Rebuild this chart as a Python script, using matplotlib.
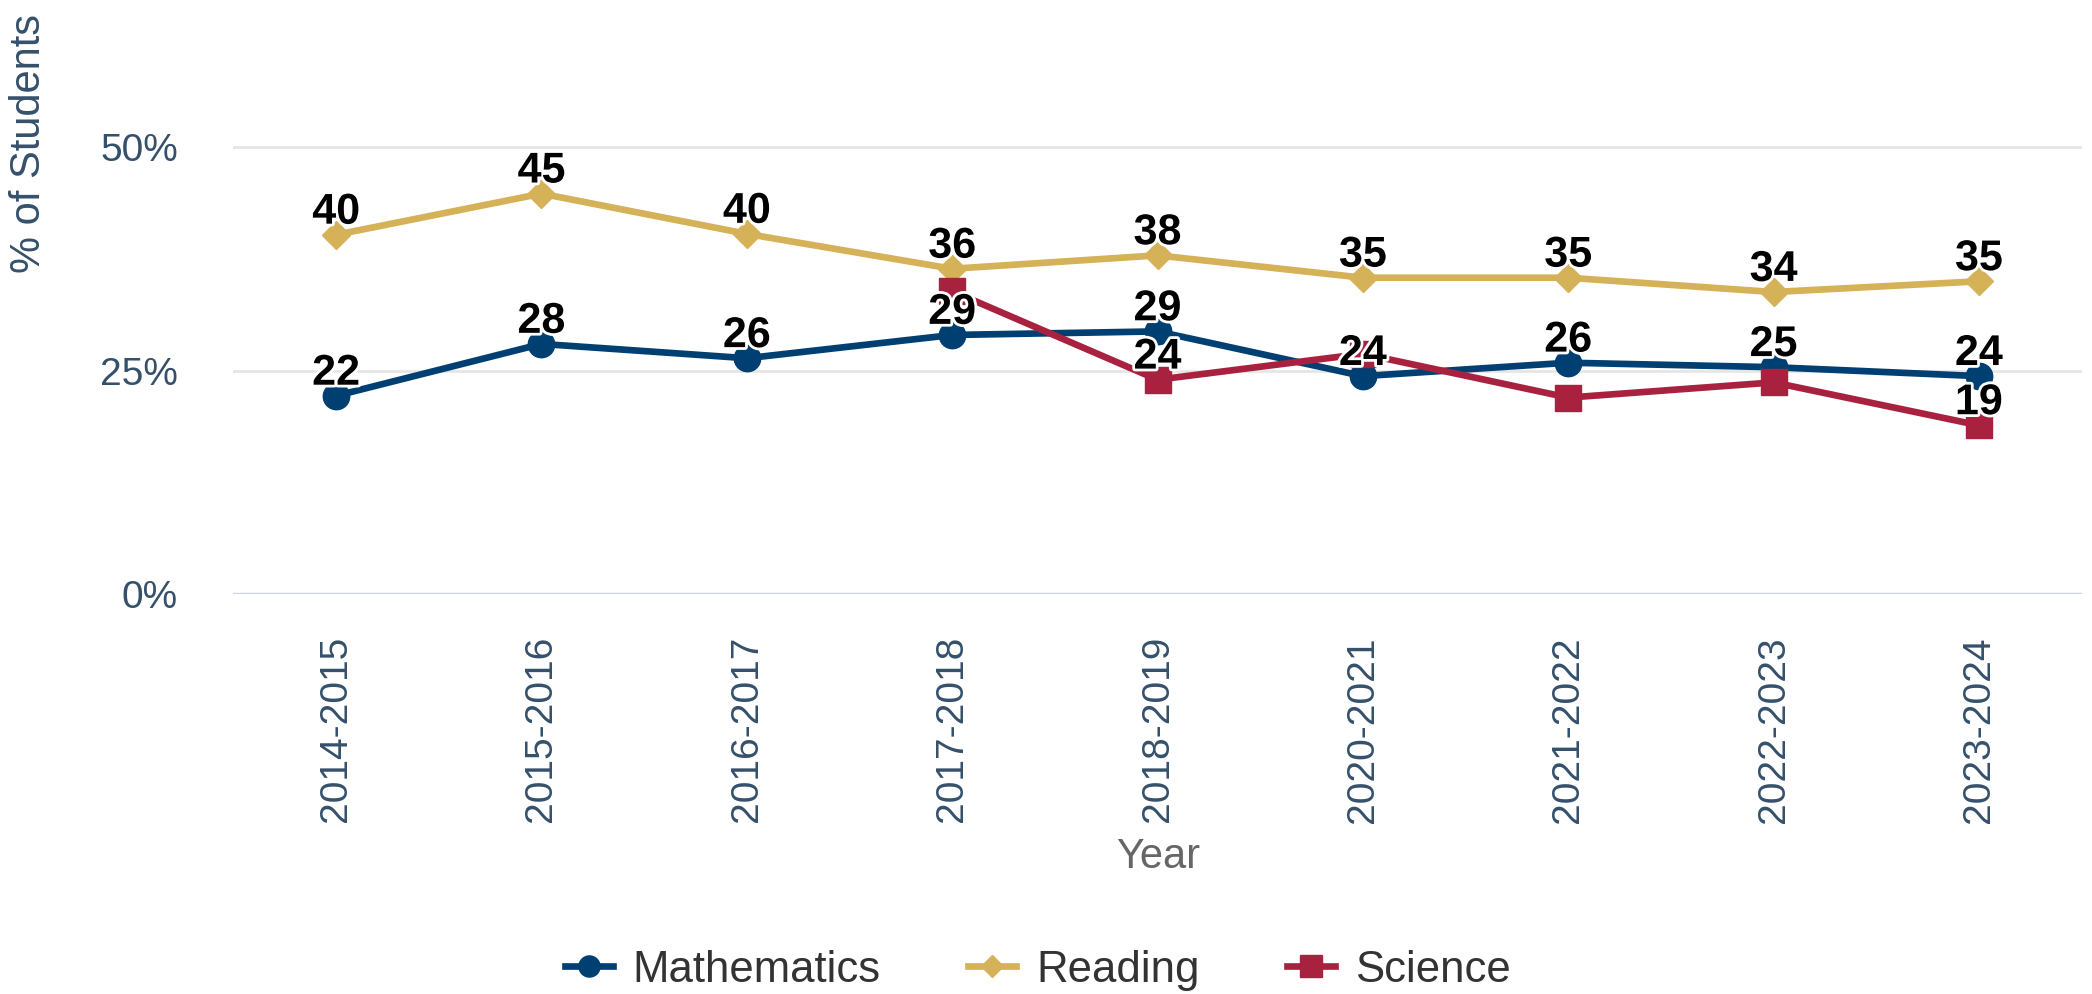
import numpy as np
import matplotlib.pyplot as plt
import matplotlib.patheffects as pe

years = ['2014-2015', '2015-2016', '2016-2017', '2017-2018', '2018-2019',
         '2020-2021', '2021-2022', '2022-2023', '2023-2024']
math_pct = [22.2, 28.0, 26.4, 29.0, 29.4, 24.4, 25.9, 25.4, 24.4]
reading_pct = [40.2, 44.8, 40.3, 36.4, 37.9, 35.4, 35.4, 33.8, 35.0]
science_pct = [np.nan, np.nan, np.nan, 33.9, 24.0, 26.9, 22.0, 23.7, 18.9]
# labels the chart hides where they overlap
science_label_shown = [False, False, False, False, True, False, False, False, True]

plt.rcParams['font.family'] = ['Liberation Sans', 'DejaVu Sans']

AXIS_COLOR = '#34506b'


def add_labels(axis, x, values, shown=None):
    for i, (xi, v) in enumerate(zip(x, values)):
        if np.isnan(v) or (shown is not None and not shown[i]):
            continue
        axis.annotate('{:.0f}'.format(v), (xi, v), xytext=(0, 8),
                      textcoords='offset points', ha='center', va='baseline',
                      fontsize=31, fontweight='bold', color='black', zorder=10,
                      path_effects=[pe.withStroke(linewidth=4, foreground='white')])


fig = plt.figure(figsize=(20.92, 9.94), dpi=100)
ax = fig.add_axes([0.1116, 0.402, 0.8834, 0.540])
x = np.arange(len(years))

ax.plot(x, math_pct, color='#003f72', lw=4.8, marker='o', markersize=19,
        label='Mathematics', zorder=3)
ax.plot(x, reading_pct, color='#d5b157', lw=4.8, marker='D', markersize=14,
        label='Reading', zorder=3)
ax.plot(x, science_pct, color='#a8223f', lw=4.8, marker='s', markersize=19,
        label='Science', zorder=4)

add_labels(ax, x, math_pct)
add_labels(ax, x, reading_pct)
add_labels(ax, x, science_pct, science_label_shown)

ax.set_xlim(-0.5, len(years) - 0.5)
ax.set_ylim(0, 60)
ax.set_yticks([0, 25, 50])
ax.set_yticklabels(['0%', '25%', '50%'])
ax.set_xticks(x)
ax.set_xticklabels(years, rotation=90)
ax.tick_params(axis='y', length=0, pad=40, labelsize=28, labelcolor=AXIS_COLOR)
ax.tick_params(axis='x', length=0, pad=30, labelsize=28, labelcolor=AXIS_COLOR)
for y in [25, 50]:
    ax.axhline(y, color='#e6e6e6', lw=2, zorder=1)
ax.axhline(0, color='#ccd6eb', lw=2.5, zorder=1)
for s in ax.spines.values():
    s.set_visible(False)

fig.text(0.5535, 0.138, 'Year', ha='center', va='center', fontsize=30, color='#666666')
fig.text(0.014, 0.856, '% of Students', ha='center', va='center', rotation=90,
         fontsize=30, color=AXIS_COLOR)

fig.legend(loc='center', bbox_to_anchor=(0.496, 0.024), ncol=3, frameon=False,
           fontsize=31.5, handlelength=1.1, handletextpad=0.45, columnspacing=2.0,
           labelcolor='#333333', markerscale=0.8)

fig.savefig('out.png', dpi=100)
plt.close()
